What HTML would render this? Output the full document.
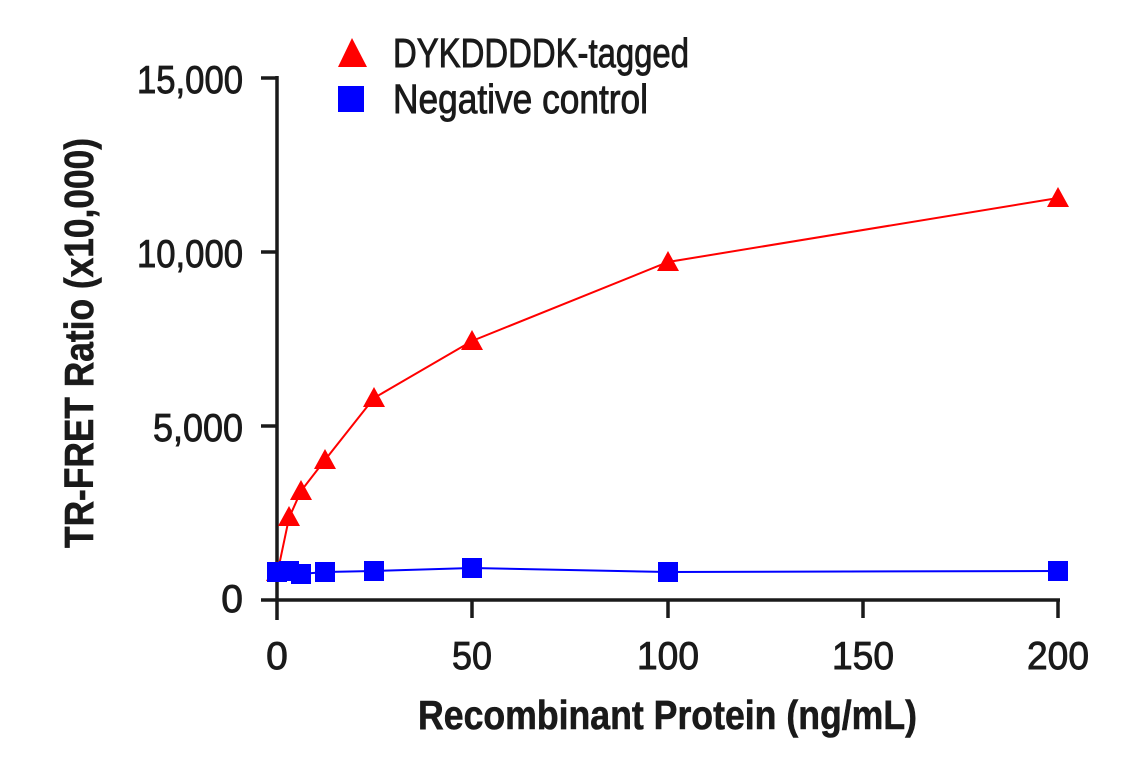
<!DOCTYPE html>
<html><head><style>body{margin:0;background:#fff}svg{display:block}</style></head>
<body>
<svg width="1141" height="768" viewBox="0 0 1141 768" xmlns="http://www.w3.org/2000/svg" font-family="Liberation Sans, sans-serif">
<rect width="1141" height="768" fill="#fff"/>
<g stroke="#1a1a1a" stroke-width="3.5" fill="none">
<line x1="277" y1="76" x2="277" y2="620"/>
<line x1="261" y1="600" x2="1060" y2="600"/>
<line x1="261" y1="78" x2="277" y2="78"/>
<line x1="261" y1="252" x2="277" y2="252"/>
<line x1="261" y1="426" x2="277" y2="426"/>
<line x1="472" y1="600" x2="472" y2="618"/>
<line x1="668" y1="600" x2="668" y2="618"/>
<line x1="863" y1="600" x2="863" y2="618"/>
<line x1="1058" y1="600" x2="1058" y2="618"/>
</g>
<g font-size="39" fill="#1a1a1a" stroke="#1a1a1a" stroke-width="0.9" text-anchor="end">
<text x="243" y="93" textLength="106" lengthAdjust="spacingAndGlyphs">15,000</text>
<text x="243" y="267" textLength="106" lengthAdjust="spacingAndGlyphs">10,000</text>
<text x="243" y="441" textLength="90" lengthAdjust="spacingAndGlyphs">5,000</text>
<text x="243" y="612">0</text>
</g>
<g font-size="39" fill="#1a1a1a" stroke="#1a1a1a" stroke-width="0.9" text-anchor="middle">
<text x="277" y="669">0</text>
<text x="472" y="669" textLength="40" lengthAdjust="spacingAndGlyphs">50</text>
<text x="668" y="669" textLength="62" lengthAdjust="spacingAndGlyphs">100</text>
<text x="863" y="669" textLength="62" lengthAdjust="spacingAndGlyphs">150</text>
<text x="1058" y="669" textLength="62" lengthAdjust="spacingAndGlyphs">200</text>
</g>
<text x="418" y="729" font-size="41" font-weight="bold" fill="#1a1a1a" stroke="#1a1a1a" stroke-width="0.6" textLength="499" lengthAdjust="spacingAndGlyphs">Recombinant Protein (ng/mL)</text>
<text transform="translate(93,548) rotate(-90)" font-size="41" font-weight="bold" fill="#1a1a1a" stroke="#1a1a1a" stroke-width="0.6" textLength="410" lengthAdjust="spacingAndGlyphs">TR-FRET Ratio (x10,000)</text>
<polygon points="352,38 367,67 338,67" fill="#f00"/>
<rect x="338" y="86" width="26" height="26" fill="#00f"/>
<text x="393" y="67" font-size="41" fill="#1a1a1a" stroke="#1a1a1a" stroke-width="0.9" textLength="296" lengthAdjust="spacingAndGlyphs">DYKDDDDK-tagged</text>
<text x="393" y="113" font-size="41" fill="#1a1a1a" stroke="#1a1a1a" stroke-width="0.9" textLength="255" lengthAdjust="spacingAndGlyphs">Negative control</text>
<polyline fill="none" stroke="#f00" stroke-width="2" points="277,575 289,518 301,491 325,460 374,398 472,341 668,262 1058,198"/>
<g fill="#f00">
<polygon points="277,561 288,581 266,581"/>
<polygon points="289,506 300,526 278,526"/>
<polygon points="301,480 312,500 290,500"/>
<polygon points="325,449 336,469 314,469"/>
<polygon points="374,387 385,407 363,407"/>
<polygon points="472,330 483,350 461,350"/>
<polygon points="668,251 679,271 657,271"/>
<polygon points="1058,187 1069,207 1047,207"/>
</g>
<polyline fill="none" stroke="#00f" stroke-width="2" points="277,572 289,571 301,574 325,572 374,571 472,568 668,572 1058,571"/>
<g fill="#00f">
<rect x="267" y="562" width="20" height="20"/>
<rect x="279" y="561" width="20" height="20"/>
<rect x="291" y="564" width="20" height="20"/>
<rect x="315" y="562" width="20" height="20"/>
<rect x="364" y="561" width="20" height="20"/>
<rect x="462" y="558" width="20" height="20"/>
<rect x="658" y="562" width="20" height="20"/>
<rect x="1048" y="561" width="20" height="20"/>
</g>
</svg>
</body></html>
